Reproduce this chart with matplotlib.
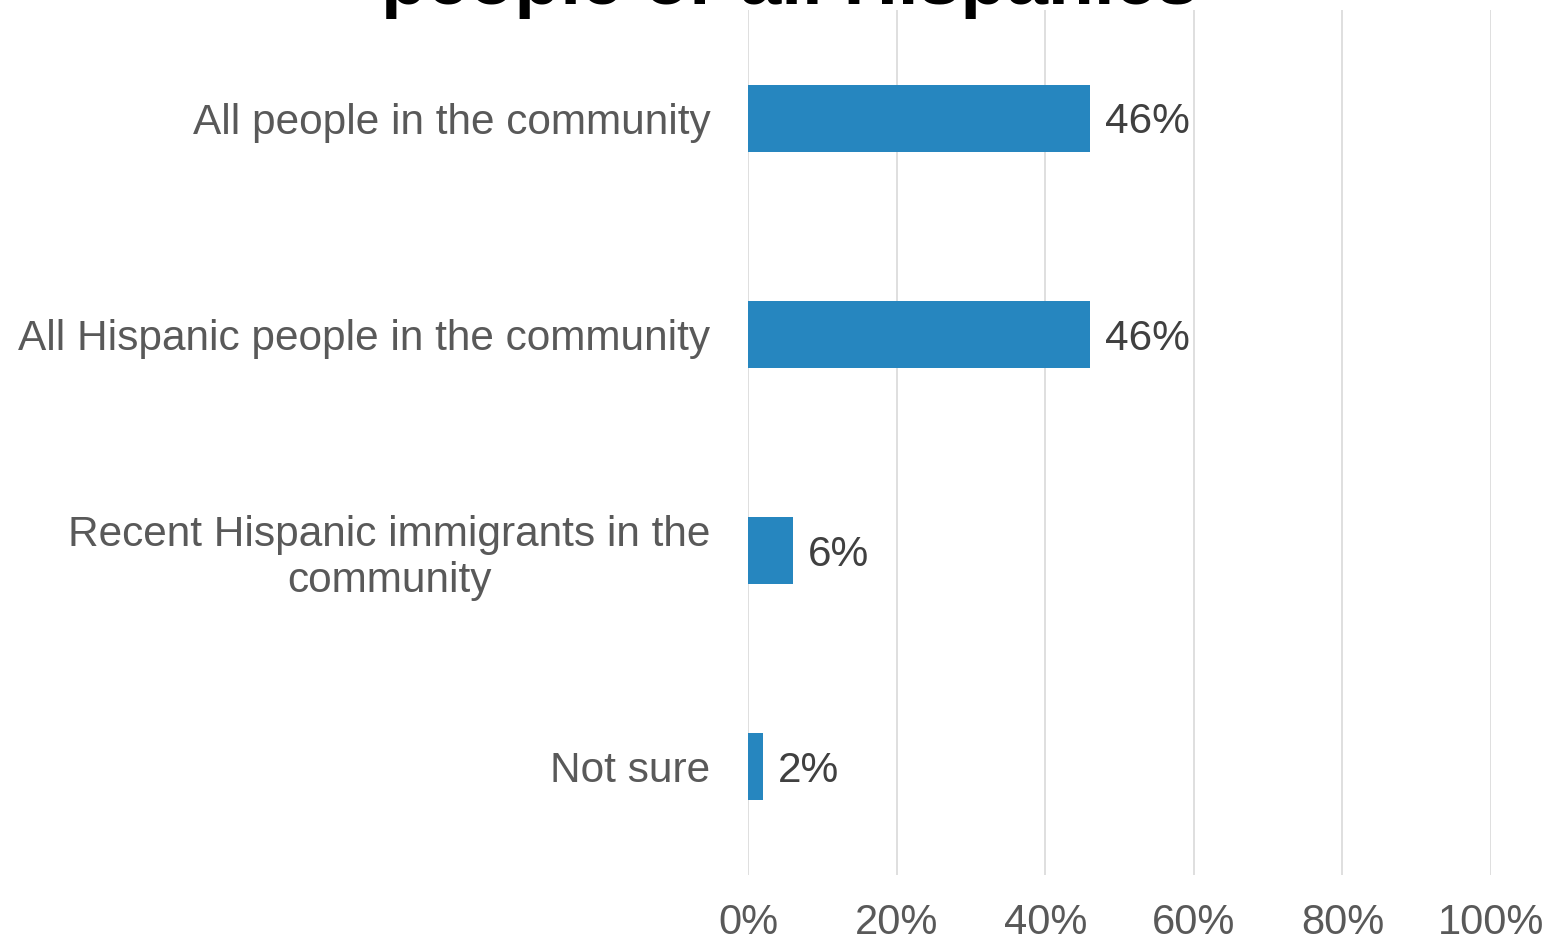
import matplotlib
matplotlib.use("Agg")
import matplotlib.pyplot as plt

categories = ["All people in the community", "All Hispanic people in the community",
              "Recent Hispanic immigrants in the\ncommunity", "Not sure"]
values = [46, 46, 6, 2]
ticks = [0, 20, 40, 60, 80, 100]
tick_labels = ["0%", "20%", "40%", "60%", "80%", "100%"]
title = "people or all Hispanics"

plt.rcParams['font.family'] = ['Liberation Sans', 'DejaVu Sans']

W, H = 1550, 941
fig = plt.figure(figsize=(W/100, H/100), dpi=100)
ax = fig.add_axes([748/W, 1-875/H, (1491-748)/W, 865/H])

y = list(range(len(categories)))
ax.barh(y, values, height=0.31, color="#2686BF", zorder=3)
ax.set_ylim(len(categories)-0.5, -0.5)
ax.set_xlim(0, 100)
ax.set_xticks(ticks)
ax.set_xticklabels(tick_labels)
ax.set_yticks(y)
ax.set_yticklabels(categories)
for lbl in ax.get_yticklabels():
    lbl.set_multialignment("center")
    lbl.set_linespacing(1.2)
ax.tick_params(axis="x", length=0, pad=20, labelsize=30, labelcolor="#595959")
ax.tick_params(axis="y", length=0, pad=27, labelsize=30.5, labelcolor="#595959")
ax.xaxis.grid(True, color="#D9D9D9", linewidth=1.2, zorder=0)
for s in ax.spines.values():
    s.set_visible(False)
for yi, v in zip(y, values):
    ax.annotate(f"{v}%", xy=(v, yi), xytext=(11, -3), textcoords="offset points",
                va="center", ha="left", fontsize=30.5, color="#404040")

fig.text(790/W, 1-4/H, title, ha="center", va="baseline", fontsize=54,
         fontweight="bold", color="black")
fig.savefig("out.png", dpi=100)
